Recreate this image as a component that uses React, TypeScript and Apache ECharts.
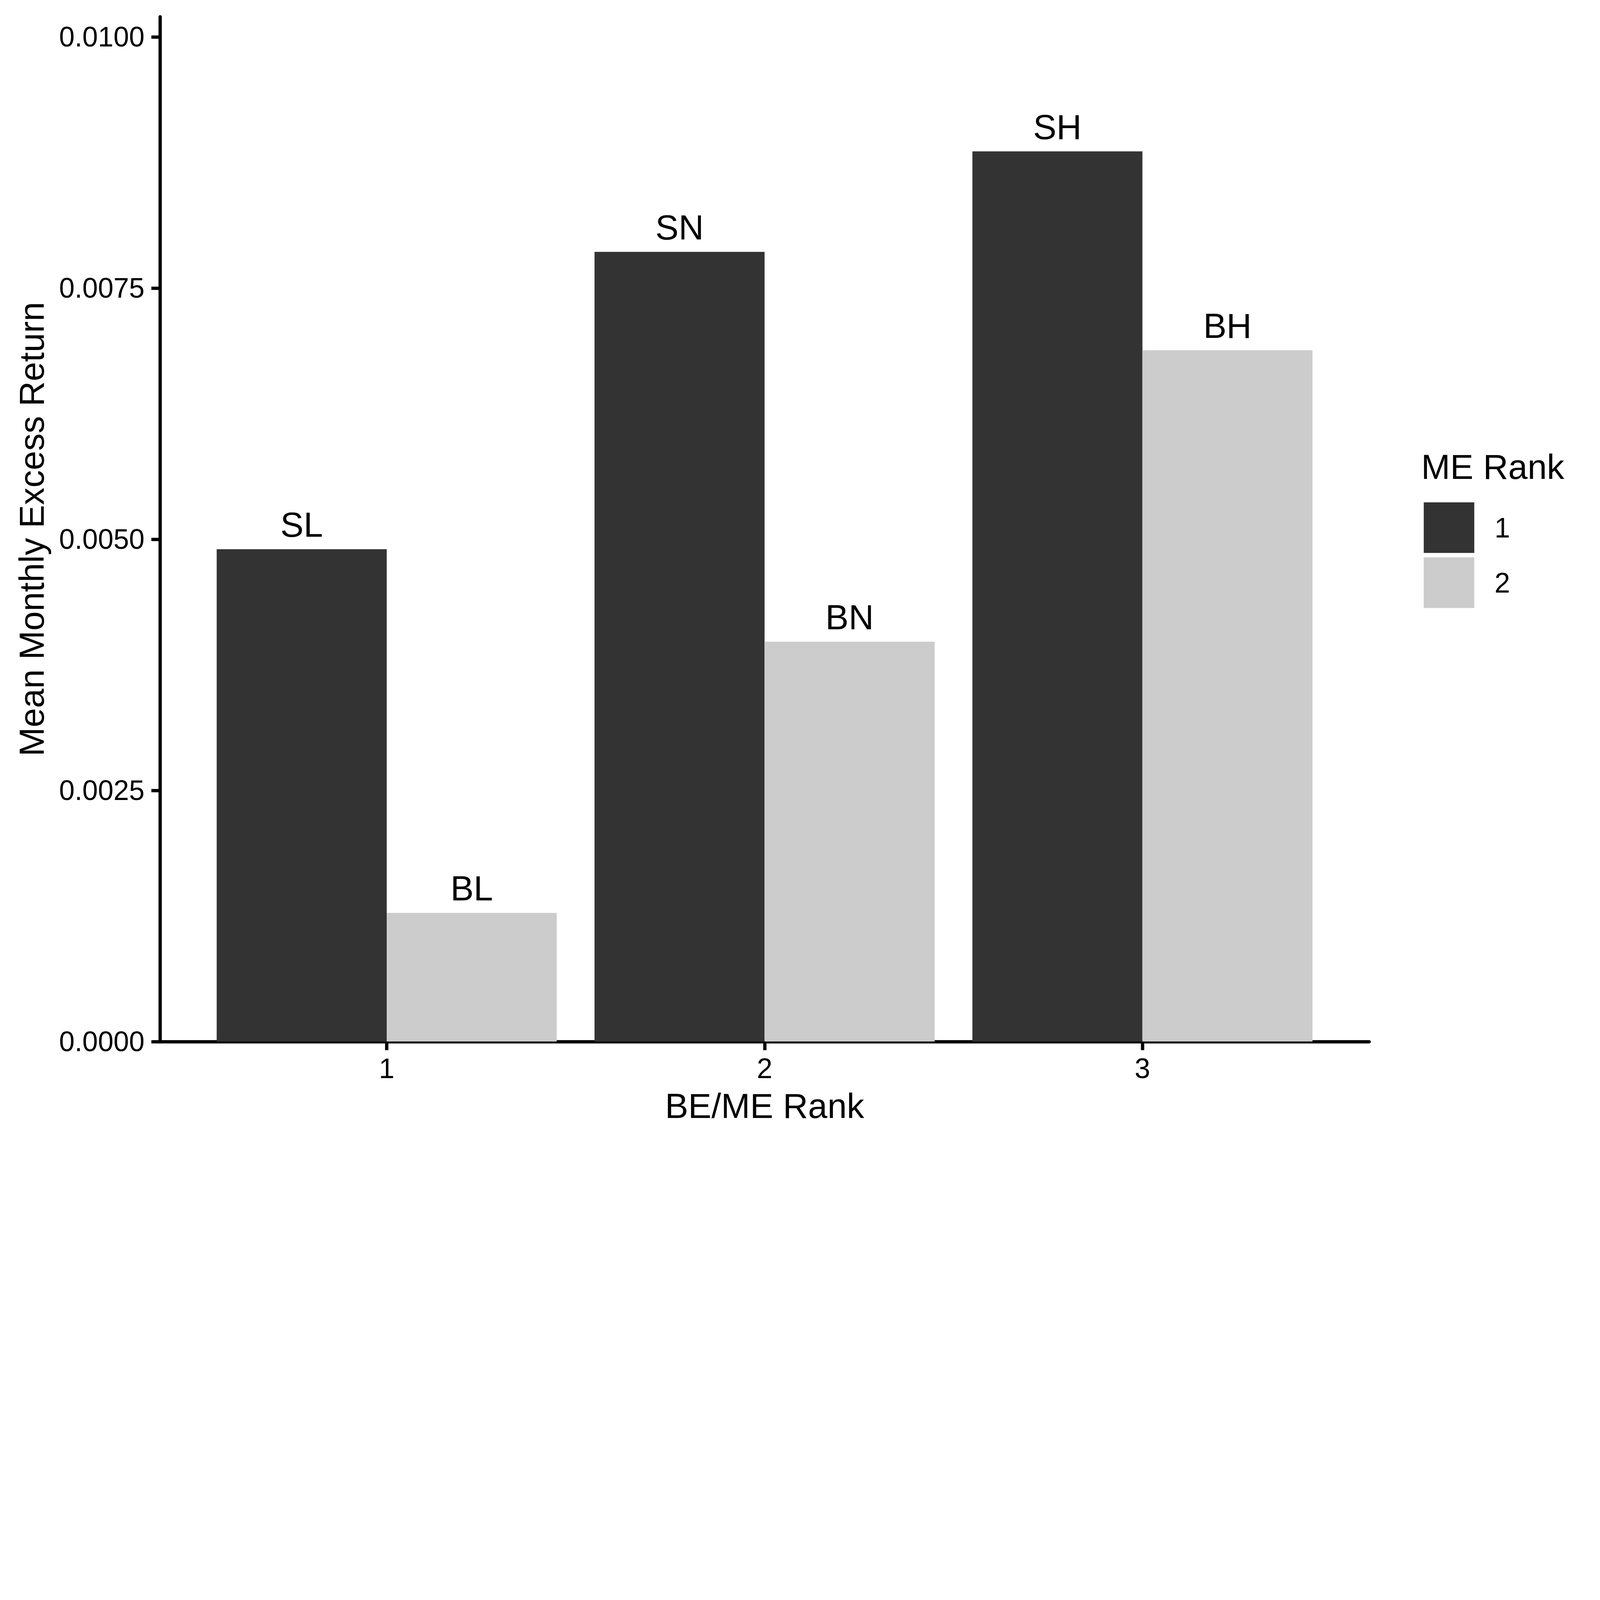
import React, { useEffect, useRef, useState } from "react";
import * as echarts from "echarts";

// ---- data ----
const categories = ["1", "2", "3"];
const categoryPositions = [1, 2, 3];
const seriesNames = ["1", "2"];
const smallValues = [0.0049, 0.00786, 0.00886];
const bigValues = [0.00128, 0.00398, 0.00688];
const smallLabels = ["SL", "SN", "SH"];
const bigLabels = ["BL", "BN", "BH"];
const yTickValues = [0, 0.0025, 0.005, 0.0075, 0.01];
const seriesColors = ["#333333", "#CCCCCC"];

const xTitle = "BE/ME Rank";
const yTitle = "Mean Monthly Excess Return";
const legendTitle = "ME Rank";

// ---- layout (in reference pixels, 6300 x 4500) ----
const W = 6300;
const H = 4500;
const FONT = "'Liberation Sans', Arial, Helvetica, sans-serif";
const GRID_LEFT = 630;
const GRID_TOP = 66;
const GRID_W = 4761;
const GRID_H = 4035;
const X_MIN = 0.4;
const X_MAX = 3.6;
const Y_MIN = 0;
const Y_MAX = 0.0102;
const LINE_W = 13;
const TICK_FONT = 110;
const TITLE_FONT = 137;

function getScale() {
  const iw = window.innerWidth || W;
  const ih = window.innerHeight || H;
  return Math.min(1, iw / W, ih / H);
}

export default function App() {
  const ref = useRef<HTMLDivElement>(null);
  const [s] = useState(() => getScale());

  useEffect(() => {
    document.body.style.margin = "0";
    document.body.style.overflow = "hidden";
    if (!ref.current) return;
    const chart = echarts.init(ref.current, null, { renderer: "svg" });
    const p = (v: number) => v * s;

    const gridW = p(GRID_W);
    const barW = (gridW * 0.45) / (X_MAX - X_MIN);

    const makeSeries = (idx: number, values: number[], labels: string[]) => ({
      type: "bar",
      name: seriesNames[idx],
      data: categoryPositions.map((x, i) => [x, values[i]]),
      barWidth: barW,
      barGap: "0%",
      itemStyle: { color: seriesColors[idx] },
      emphasis: { disabled: true },
      label: {
        show: true,
        position: "top",
        distance: p(28),
        formatter: (q: any) => labels[q.dataIndex],
        fontSize: p(TITLE_FONT),
        lineHeight: p(TITLE_FONT),
        color: "#000",
        fontFamily: FONT,
      },
    });

    const axisLineStyle = { color: "#000", width: p(LINE_W) };

    chart.setOption({
      animation: false,
      backgroundColor: "#ffffff",
      grid: {
        left: p(GRID_LEFT),
        top: p(GRID_TOP),
        width: gridW,
        height: p(GRID_H),
        containLabel: false,
      },
      xAxis: {
        type: "value",
        min: X_MIN,
        max: X_MAX,
        splitLine: { show: false },
        axisLine: { show: true, onZero: false, lineStyle: axisLineStyle },
        axisTick: {
          show: true,
          customValues: categoryPositions,
          length: p(34),
          lineStyle: axisLineStyle,
        },
        axisLabel: {
          show: true,
          customValues: categoryPositions,
          formatter: (v: number) => {
            const i = categoryPositions.indexOf(Math.round(v));
            return i >= 0 ? categories[i] : "";
          },
          margin: p(50),
          fontSize: p(TICK_FONT),
          lineHeight: p(TICK_FONT),
          color: "#000",
          fontFamily: FONT,
        },
      },
      yAxis: {
        type: "value",
        min: Y_MIN,
        max: Y_MAX,
        splitLine: { show: false },
        axisLine: { show: true, onZero: false, lineStyle: axisLineStyle },
        axisTick: {
          show: true,
          customValues: yTickValues,
          length: p(34),
          lineStyle: axisLineStyle,
        },
        axisLabel: {
          show: true,
          customValues: yTickValues,
          formatter: (v: number) => v.toFixed(4),
          margin: p(61),
          fontSize: p(TICK_FONT),
          lineHeight: p(TICK_FONT),
          color: "#000",
          fontFamily: FONT,
        },
      },
      legend: {
        show: true,
        data: seriesNames,
        orient: "vertical",
        left: p(5606),
        top: p(1978),
        padding: 0,
        itemWidth: p(199),
        itemHeight: p(199),
        itemGap: p(18),
        icon: "rect",
        selectedMode: false,
        textStyle: {
          fontSize: p(TICK_FONT),
          color: "#000",
          fontFamily: FONT,
          padding: [0, 0, 0, p(72)],
        },
      },
      graphic: [
        {
          type: "text",
          x: p(124),
          y: p(GRID_TOP + GRID_H / 2),
          rotation: Math.PI / 2,
          style: {
            text: yTitle,
            fontSize: p(TITLE_FONT),
            fontFamily: FONT,
            fill: "#000",
            align: "center",
            verticalAlign: "middle",
          },
        },
        {
          type: "text",
          x: p(GRID_LEFT + GRID_W / 2),
          y: p(GRID_TOP + GRID_H + 253),
          style: {
            text: xTitle,
            fontSize: p(TITLE_FONT),
            fontFamily: FONT,
            fill: "#000",
            align: "center",
            verticalAlign: "middle",
          },
        },
        {
          type: "text",
          x: p(5596),
          y: p(1838),
          style: {
            text: legendTitle,
            fontSize: p(TITLE_FONT),
            fontFamily: FONT,
            fill: "#000",
            align: "left",
            verticalAlign: "middle",
          },
        },
      ],
      series: [
        makeSeries(0, smallValues, smallLabels),
        makeSeries(1, bigValues, bigLabels),
      ],
    });

    return () => {
      chart.dispose();
    };
  }, [s]);

  return (
    <div
      ref={ref}
      style={{
        position: "absolute",
        left: 0,
        top: 0,
        width: W * s,
        height: H * s,
      }}
    />
  );
}
